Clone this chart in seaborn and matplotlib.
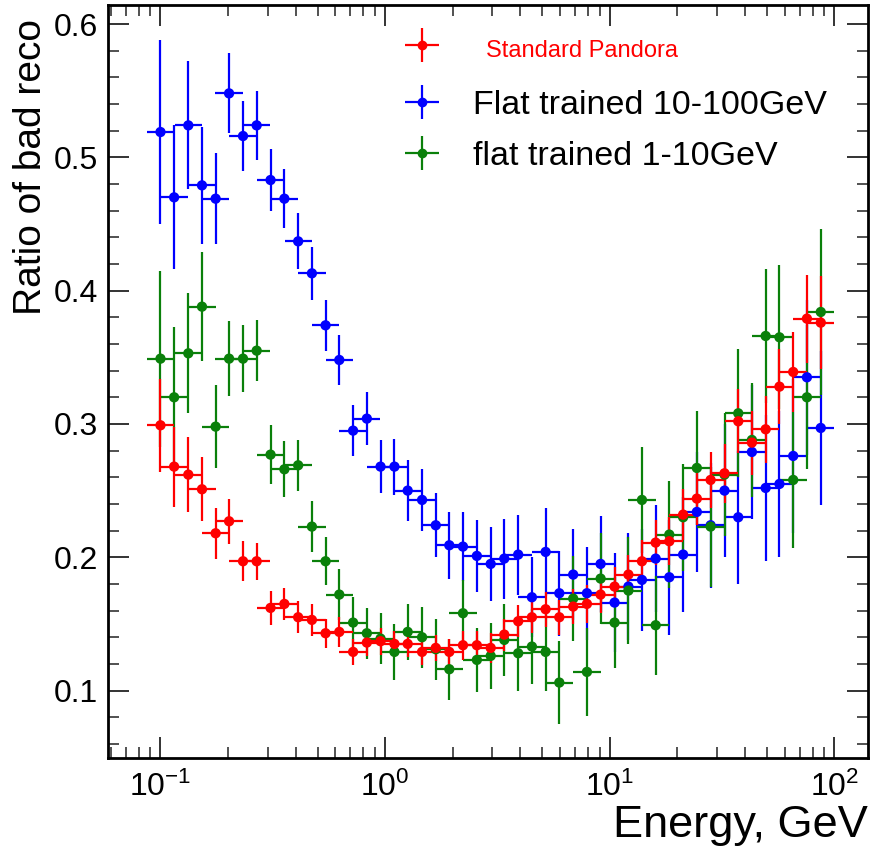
import numpy as np
import pandas as pd
import matplotlib
matplotlib.use("Agg")
import matplotlib.pyplot as plt
import matplotlib.ticker as mticker
from matplotlib.lines import Line2D
import seaborn as sns

# bin positions (GeV), one point per log bin
x_energy = [0.100, 0.115, 0.133, 0.153, 0.176, 0.202, 0.233, 0.268, 0.309, 0.356,
            0.410, 0.472, 0.543, 0.625, 0.720, 0.829, 0.954, 1.10, 1.26, 1.46,
            1.68, 1.93, 2.22, 2.56, 2.95, 3.39, 3.91, 4.50, 5.18, 5.96,
            6.87, 7.91, 9.10, 10.5, 12.1, 13.9, 16.0, 18.4, 21.2, 24.4,
            28.1, 32.4, 37.3, 42.9, 49.4, 56.9, 65.5, 75.4, 86.9]

# Standard Pandora
red_ratio = [0.299, 0.268, 0.262, 0.251, 0.218, 0.227, 0.197, 0.197, 0.162, 0.165,
             0.155, 0.153, 0.143, 0.144, 0.129, 0.136, 0.137, 0.135, 0.135, 0.129,
             0.132, 0.129, 0.134, 0.134, 0.132, 0.142, 0.152, 0.155, 0.161, 0.155,
             0.163, 0.165, 0.172, 0.178, 0.187, 0.197, 0.211, 0.212, 0.232, 0.244,
             0.258, 0.263, 0.302, 0.286, 0.296, 0.328, 0.339, 0.379, 0.376]
red_err = [0.035, 0.030, 0.028, 0.024, 0.019, 0.017, 0.015, 0.014, 0.013, 0.012,
           0.012, 0.012, 0.011, 0.011, 0.010, 0.010, 0.010, 0.010, 0.010, 0.010,
           0.010, 0.010, 0.011, 0.011, 0.011, 0.012, 0.012, 0.012, 0.013, 0.013,
           0.013, 0.014, 0.014, 0.015, 0.015, 0.016, 0.017, 0.018, 0.019, 0.020,
           0.021, 0.022, 0.024, 0.024, 0.025, 0.028, 0.030, 0.033, 0.035]

# Flat trained 10-100GeV
blue_ratio = [0.519, 0.470, 0.524, 0.479, 0.469, 0.548, 0.516, 0.524, 0.483, 0.469,
              0.437, 0.413, 0.374, 0.348, 0.295, 0.304, 0.268, 0.268, 0.250, 0.243,
              0.224, 0.209, 0.208, 0.201, 0.195, 0.199, 0.202, 0.170, 0.204, 0.173,
              0.187, 0.173, 0.195, 0.166, 0.178, 0.183, 0.199, 0.185, 0.202, 0.234,
              0.224, 0.250, 0.230, 0.279, 0.252, 0.255, 0.276, 0.335, 0.297]
blue_err = [0.069, 0.054, 0.048, 0.044, 0.034, 0.030, 0.026, 0.026, 0.023, 0.022,
            0.021, 0.020, 0.019, 0.019, 0.019, 0.020, 0.020, 0.021, 0.023, 0.023,
            0.024, 0.025, 0.026, 0.027, 0.028, 0.030, 0.030, 0.030, 0.033, 0.032,
            0.034, 0.035, 0.036, 0.037, 0.040, 0.038, 0.040, 0.043, 0.043, 0.045,
            0.047, 0.050, 0.050, 0.050, 0.055, 0.055, 0.058, 0.058, 0.058]

# flat trained 1-10GeV
green_ratio = [0.349, 0.320, 0.353, 0.388, 0.298, 0.349, 0.349, 0.355, 0.277, 0.266,
               0.269, 0.223, 0.197, 0.172, 0.151, 0.143, 0.139, 0.129, 0.144, 0.140,
               0.131, 0.116, 0.158, 0.123, 0.126, 0.138, 0.128, 0.133, 0.129, 0.106,
               0.169, 0.114, 0.184, 0.151, 0.175, 0.243, 0.149, 0.217, 0.230, 0.267,
               0.223, 0.262, 0.308, 0.288, 0.366, 0.365, 0.258, 0.320, 0.384]
green_err = [0.066, 0.053, 0.045, 0.041, 0.031, 0.028, 0.025, 0.023, 0.022, 0.021,
             0.019, 0.019, 0.018, 0.019, 0.019, 0.019, 0.019, 0.021, 0.021, 0.023,
             0.023, 0.023, 0.025, 0.024, 0.025, 0.027, 0.028, 0.028, 0.029, 0.031,
             0.032, 0.033, 0.034, 0.034, 0.040, 0.040, 0.037, 0.040, 0.040, 0.043,
             0.045, 0.046, 0.048, 0.043, 0.050, 0.054, 0.051, 0.054, 0.062]

labels = ["Standard Pandora", "Flat trained 10-100GeV", "flat trained 1-10GeV"]
colors = {"Standard Pandora": "#ff0000",
          "Flat trained 10-100GeV": "#0000ff",
          "flat trained 1-10GeV": "#0a800a"}

sns.set_theme(style="ticks")
plt.rcParams["font.family"] = ["Liberation Sans", "DejaVu Sans"]
plt.rcParams["mathtext.fontset"] = "custom"
plt.rcParams["mathtext.rm"] = "Liberation Sans"
plt.rcParams["mathtext.it"] = "Liberation Sans"
plt.rcParams["text.color"] = "black"
plt.rcParams["axes.labelcolor"] = "black"

series = {
    "Flat trained 10-100GeV": (blue_ratio, blue_err),
    "flat trained 1-10GeV": (green_ratio, green_err),
    "Standard Pandora": (red_ratio, red_err),
}
frames = []
for name, (vals, errs) in series.items():
    frames.append(pd.DataFrame({"energy": x_energy, "ratio": vals, "err": errs, "sample": name}))
df = pd.concat(frames, ignore_index=True)

fig = plt.figure(figsize=(8.71, 8.47), dpi=100)
ax = fig.add_axes([108 / 871, 89 / 847, 760 / 871, 753 / 847])

x = np.array(x_energy)
step = x[1] / x[0]
xerr = [x - x / step, x * step - x]

handles = {}
for name in series:
    sub = df[df["sample"] == name]
    eb = ax.errorbar(sub["energy"], sub["ratio"], yerr=sub["err"], xerr=xerr,
                     fmt="none", ecolor=colors[name], elinewidth=1.6, capsize=0)
    handles[name] = eb

sns.scatterplot(data=df, x="energy", y="ratio", hue="sample", palette=colors,
                s=55, edgecolor="none", linewidth=0, legend=False, ax=ax, zorder=5)

ax.set_xscale("log")
ax.set_xlim(0.0584, 141)
ax.set_ylim(0.0494, 0.6143)

ax.yaxis.set_major_locator(mticker.MultipleLocator(0.1))
ax.yaxis.set_minor_locator(mticker.MultipleLocator(0.02))
ax.yaxis.set_major_formatter(mticker.FormatStrFormatter("%.1f"))
ax.xaxis.set_major_locator(mticker.LogLocator(base=10, numticks=10))
ax.xaxis.set_minor_locator(mticker.LogLocator(base=10, subs=np.arange(2, 10), numticks=20))
ax.xaxis.set_minor_formatter(mticker.NullFormatter())

ax.tick_params(which="both", direction="in", top=True, right=True, colors="#333333",
               labelcolor="black")
ax.tick_params(which="major", length=15, width=1.4, labelsize=23, pad=7)
ax.tick_params(which="minor", length=8, width=1.2)
ax.tick_params(axis="x", which="major", pad=10)
for sp in ax.spines.values():
    sp.set_linewidth(2.0)
    sp.set_color("black")

ax.set_xlabel("Energy, GeV", fontsize=32.5, loc="right", labelpad=1)
ax.set_ylabel("Ratio of bad reco", fontsize=28, loc="top")
ax.yaxis.set_label_coords(-0.077, 0.982)

# legend: red entry on its own row with a smaller red label
red_entry = [(handles[labels[0]], Line2D([], [], marker="o", ms=6, color=colors[labels[0]], ls="none"))]
leg_red = ax.legend(red_entry, labels[:1], loc="center left", bbox_to_anchor=(0.3878, 0.944),
                    frameon=False, fontsize=24.5, handlelength=1.16, handletextpad=1.28,
                    borderaxespad=0, borderpad=0)
leg_red.get_texts()[0].set_color("#ff0000")
leg_red.get_texts()[0].set_fontsize(17)
ax.add_artist(leg_red)

other_entries = []
for name in labels[1:]:
    dot = Line2D([], [], marker="o", ms=6, color=colors[name], ls="none")
    other_entries.append((handles[name], dot))
ax.legend(other_entries, labels[1:], loc="center left", bbox_to_anchor=(0.3878, 0.8327),
          frameon=False, fontsize=24.5, handlelength=1.16, handletextpad=0.9,
          labelspacing=0.6, borderaxespad=0, borderpad=0)

fig.savefig("out.png", dpi=100)
